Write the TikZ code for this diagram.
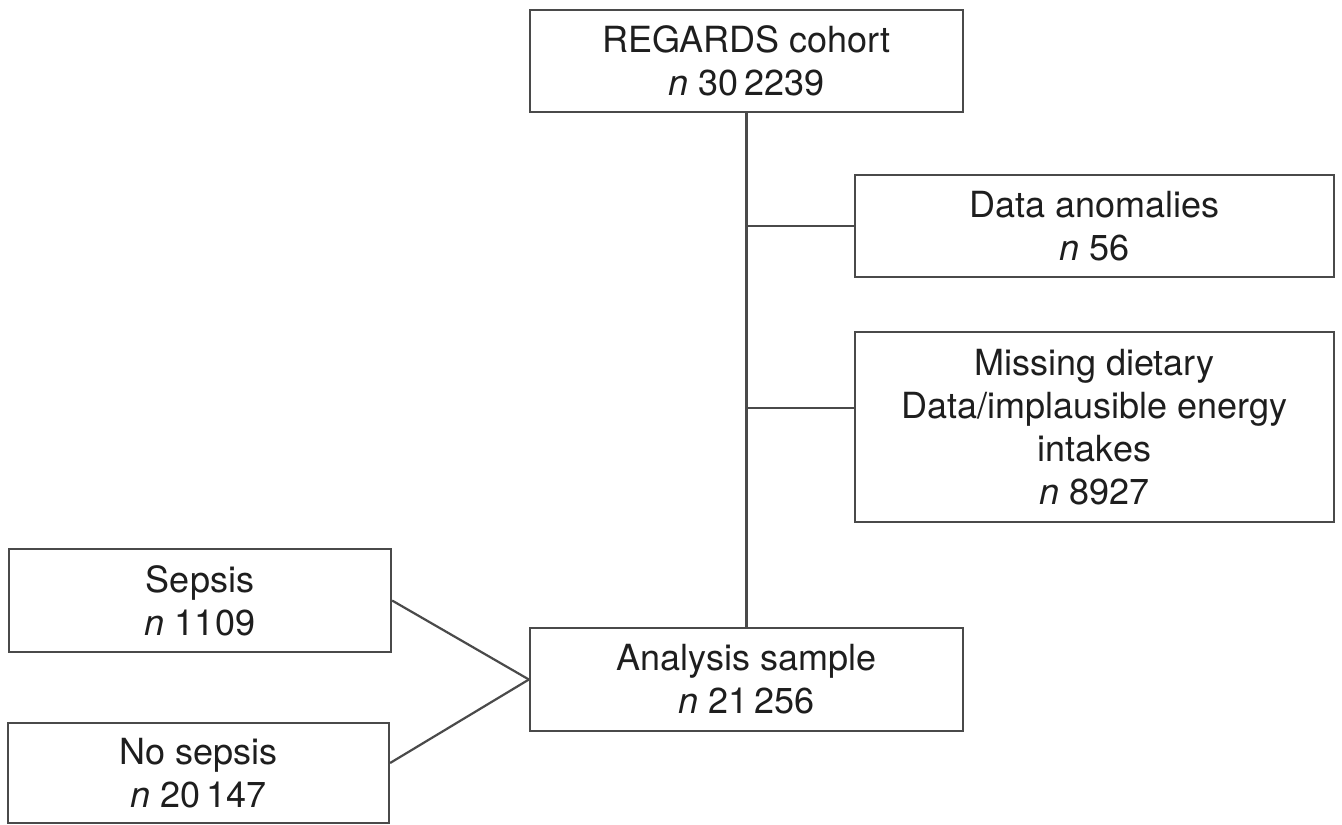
\documentclass[tikz,border=0pt]{standalone}
\usepackage{fontspec}
\setmainfont{TeX Gyre Heros}
\definecolor{linegray}{HTML}{4A4A4A}
\definecolor{txt}{HTML}{1E1E1E}
\begin{document}
\begin{tikzpicture}[x=1pt,y=-1pt,
  box/.style={draw=linegray, line width=2.2pt, fill=white, inner sep=0pt,
    align=center, text=txt, font=\fontsize{36}{43}\selectfont},
  conn/.style={draw=linegray, line width=2.2pt}]
\useasboundingbox[fill=white] (0,0) rectangle (1342,825);
\node[box, minimum width=433pt, minimum height=102pt] (regards) at (746.5,61)
  {REGARDS cohort\\\textit{n}~30\,2239};
\node[box, minimum width=479pt, minimum height=102pt] (data) at (1094.5,226)
  {Data anomalies\\\textit{n}~56};
\node[box, minimum width=479pt, minimum height=190pt] (missing) at (1094.5,427)
  {Missing dietary\\Data/implausible energy\\intakes\\\textit{n}~8927};
\node[box, minimum width=382pt, minimum height=103pt] (sepsis) at (200,600.5)
  {Sepsis\\\textit{n}~1109};
\node[box, minimum width=381pt, minimum height=100pt] (nosepsis) at (198.5,773)
  {No sepsis\\\textit{n}~20\,147};
\node[box, minimum width=433pt, minimum height=103pt] (analysis) at (746.5,679.5)
  {Analysis sample\\\textit{n}~21\,256};
\coordinate (b1) at (746.5,226);
\coordinate (b2) at (746.5,408);
\coordinate (ns) at ([yshift=10pt]nosepsis.east);
\draw[conn] (regards.south) -- (analysis.north);
\draw[conn] (b1) -- (data.west);
\draw[conn] (b2) -- (b2 -| missing.west);
\draw[conn] (sepsis.east) -- (analysis.west);
\draw[conn] (ns) -- (analysis.west);
\end{tikzpicture}
\end{document}
